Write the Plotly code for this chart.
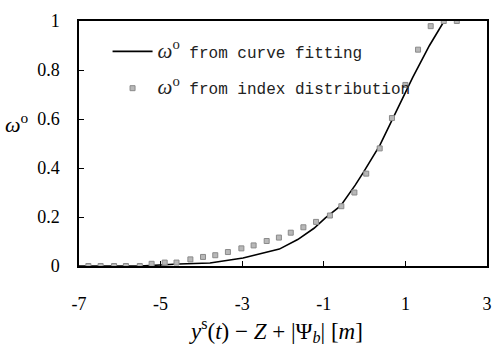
import plotly.graph_objects as go

# index distribution points
idx_x = [-6.77, -6.47, -6.14, -5.85, -5.51, -5.22, -4.90, -4.61, -4.27, -3.96,
         -3.66, -3.35, -3.02, -2.72, -2.40, -2.10, -1.81, -1.50, -1.19, -0.85,
         -0.57, -0.25, 0.04, 0.37, 0.67, 1.00, 1.31, 1.62, 1.94, 2.26]
idx_y = [0.0, 0.0, 0.0, 0.0, 0.0, 0.009, 0.014, 0.014, 0.027, 0.037,
         0.044, 0.057, 0.072, 0.084, 0.102, 0.116, 0.136, 0.158, 0.180, 0.206,
         0.244, 0.300, 0.377, 0.480, 0.604, 0.739, 0.883, 0.979, 1.0, 1.0]

# curve fitting
fit_x = [-7.0, -5.51, -4.55, -3.79, -2.98, -2.45, -2.09, -1.64, -1.24, -0.96,
         -0.59, -0.23, -0.03, 0.375, 0.78, 1.18, 1.59, 1.95]
fit_y = [0.0, 0.0, 0.008, 0.012, 0.033, 0.054, 0.069, 0.108, 0.154, 0.196,
         0.245, 0.330, 0.382, 0.493, 0.63, 0.77, 0.90, 1.0]

x_ticks = [-7, -5, -3, -1, 1, 3]
y_ticks = [0, 0.2, 0.4, 0.6, 0.8, 1]
y_tick_text = ["0", "0.2", "0.4", "0.6", "0.8", "1"]

serif = "Liberation Serif"
mono = "Liberation Mono"
omega = '<span style="font-family:Liberation Serif;font-size:21px"><i>ω</i><sup>o</sup></span> '

fig = go.Figure()
fig.add_trace(go.Scatter(
    x=fit_x, y=fit_y, mode="lines",
    line=dict(color="black", width=1.6),
    name=omega + "from curve fitting", legendgroup="a"))
fig.add_trace(go.Scatter(
    x=idx_x, y=idx_y, mode="markers",
    marker=dict(symbol="square", size=5, color="#b8b8b8",
                line=dict(color="#8a8a8a", width=1)),
    name=omega + "from index distribution", legendgroup="b"))

fig.update_layout(
    width=503, height=352,
    margin=dict(l=79, r=11, t=11, b=86),
    paper_bgcolor="white", plot_bgcolor="white",
    font=dict(family=serif, size=18, color="black"),
    showlegend=True,
    legend=dict(x=0.07, y=0.945, xanchor="left", yanchor="top",
                bgcolor="rgba(0,0,0,0)", traceorder="grouped", tracegroupgap=13,
                itemwidth=40,
                font=dict(family=mono, size=16, color="#222")),
    xaxis=dict(range=[-7, 3], tickvals=x_ticks, ticktext=[str(v) for v in x_ticks],
               showgrid=False, zeroline=False, showline=True, linecolor="black",
               linewidth=1.5, mirror=True, ticks="inside", ticklen=5,
               tickcolor="black", ticklabelstandoff=21,
               tickfont=dict(family=serif, size=18)),
    yaxis=dict(range=[0, 1], tickvals=y_ticks, ticktext=y_tick_text,
               showgrid=False, zeroline=False, showline=True, linecolor="black",
               linewidth=1.5, mirror=True, ticks="inside", ticklen=5,
               tickcolor="black", ticklabelstandoff=14,
               tickfont=dict(family=serif, size=18)),
)
fig.add_annotation(text="<i>y</i><sup>s</sup>(<i>t</i>) − <i>Z</i> + |Ψ<sub><i>b</i></sub>| [<i>m</i>]",
                   xref="paper", yref="paper", x=0.482, y=-0.262,
                   xanchor="center", yanchor="middle", showarrow=False,
                   font=dict(family=serif, size=23))
fig.add_annotation(text="<i>ω</i><sup>o</sup>", xref="paper", yref="paper",
                   x=-0.186, y=0.585, xanchor="left", yanchor="middle",
                   showarrow=False, font=dict(family=serif, size=22))

fig.write_html("out.html")
